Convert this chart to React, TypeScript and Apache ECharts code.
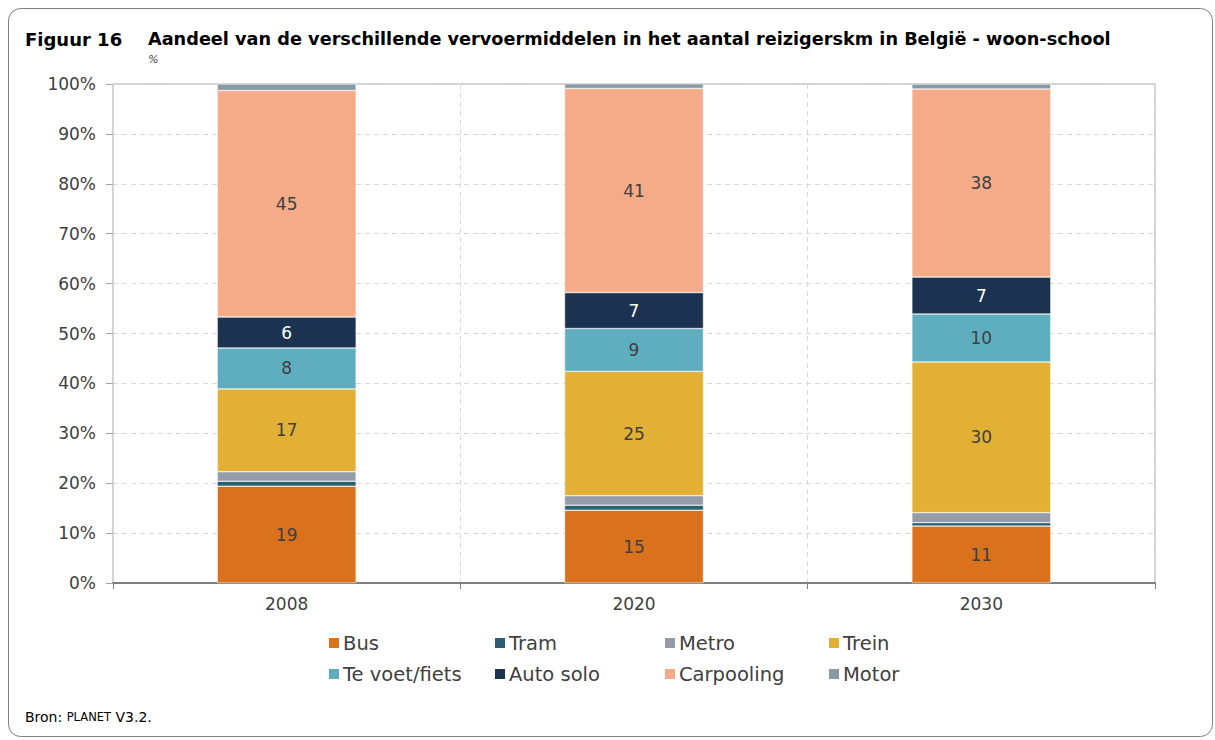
import React, { useEffect, useRef } from "react";
import * as echarts from "echarts";

const years = ["2008", "2020", "2030"];
const seriesNames = ["Bus", "Tram", "Metro", "Trein", "Te voet/fiets", "Auto solo", "Carpooling", "Motor"];
const bus = [19.4, 14.6, 11.4];
const tram = [1.0, 1.0, 0.7];
const metro = [1.9, 1.9, 2.0];
const trein = [16.6, 24.9, 30.2];
const teVoet = [8.2, 8.6, 9.6];
const autoSolo = [6.2, 7.2, 7.4];
const carpooling = [45.4, 40.9, 37.7];
const motor = [1.3, 1.0, 1.0];
const yTicks = [0, 10, 20, 30, 40, 50, 60, 70, 80, 90, 100];

const colors = ["#D9711D", "#2A5F73", "#959CA8", "#E2B035", "#5FAEBF", "#1B3350", "#F5AA88", "#8A9AA5"];
const labelled = [true, false, false, true, true, true, true, false];
const FONT = "'DejaVu Sans', sans-serif";

export default function App() {
  const ref = useRef<HTMLDivElement>(null);
  useEffect(() => {
    if (!ref.current) return;
    const chart = echarts.init(ref.current, null, { renderer: "svg" });
    const values = [bus, tram, metro, trein, teVoet, autoSolo, carpooling, motor];
    const legendCols = [327, 493, 663, 827];
    const legendRows = [633, 664];
    const legends = seriesNames.map((n, i) => ({
      show: true,
      data: [n],
      left: legendCols[i % 4],
      top: legendRows[Math.floor(i / 4)],
      itemWidth: 12,
      itemHeight: 12,
      icon: "rect",
      textStyle: { fontFamily: FONT, fontSize: 19.5, color: "#404040", padding: [0, 0, 0, -2] },
      padding: 0,
    }));
    chart.setOption({
      animation: false,
      color: colors,
      textStyle: { fontFamily: FONT },
      grid: {
        left: 113,
        right: 60,
        top: 84,
        bottom: 157,
        show: true,
        borderColor: "#A6A6A6",
        borderWidth: 1,
      },
      legend: legends,
      graphic: [
        {
          type: "rect",
          shape: { x: 8.5, y: 8.5, width: 1204, height: 728, r: 12 },
          style: { fill: "none", stroke: "#7F7F7F", lineWidth: 1 },
        },
        {
          type: "text",
          left: 25,
          top: 30,
          style: { text: "Figuur 16", font: `bold 18px ${FONT}`, fill: "#000" },
        },
        {
          type: "text",
          left: 148,
          top: 30,
          style: {
            text: "Aandeel van de verschillende vervoermiddelen in het aantal reizigerskm in België - woon-school",
            font: `bold 17.7px ${FONT}`,
            fill: "#000",
          },
        },
        {
          type: "text",
          left: 148,
          top: 54,
          style: { text: "%", font: `italic 11px ${FONT}`, fill: "#404040" },
        },
        {
          type: "text",
          left: 25,
          top: 710,
          style: {
            text: "{a|Bron: }{b|PLANET}{a| V3.2.}",
            rich: {
              a: { fontFamily: FONT, fontSize: 14, fill: "#000" },
              b: { fontFamily: FONT, fontSize: 11.5, fill: "#000" },
            },
          },
        },
      ],
      xAxis: {
        type: "category",
        data: years,
        axisLine: { lineStyle: { color: "#7F7F7F", width: 2 } },
        axisTick: { show: true, length: 6, lineStyle: { color: "#7F7F7F" } },
        axisLabel: { fontFamily: FONT, fontSize: 17, color: "#404040", margin: 12 },
        splitLine: { show: true, lineStyle: { color: "#D9D9D9", type: [5, 4] } },
      },
      yAxis: {
        type: "value",
        min: 0,
        max: 100,
        interval: 10,
        axisLine: { show: false },
        axisTick: { show: true, length: 7, lineStyle: { color: "#A6A6A6" } },
        axisLabel: {
          fontFamily: FONT,
          fontSize: 17,
          color: "#404040",
          margin: 17,
          formatter: (v: number) => (yTicks.includes(v) ? `${v}%` : ""),
        },
        splitLine: { show: true, lineStyle: { color: "#D9D9D9", type: [5, 4] } },
      },
      series: seriesNames.map((n, i) => ({
        name: n,
        type: "bar",
        stack: "total",
        barWidth: "40%",
        data: values[i],
        itemStyle: { color: colors[i], borderColor: "#FFFFFF", borderWidth: 0.5 },
        label: {
          show: labelled[i],
          position: "inside",
          fontFamily: FONT,
          fontSize: 17,
          color: i === 5 ? "#FFFFFF" : "#404040",
          formatter: (p: any) => `${Math.round(p.value)}`,
        },
      })),
    });
    return () => chart.dispose();
  }, []);
  return (
    <div
      ref={ref}
      style={{ position: "fixed", left: 0, top: 0, width: 1215, height: 740, background: "#fff" }}
    />
  );
}
